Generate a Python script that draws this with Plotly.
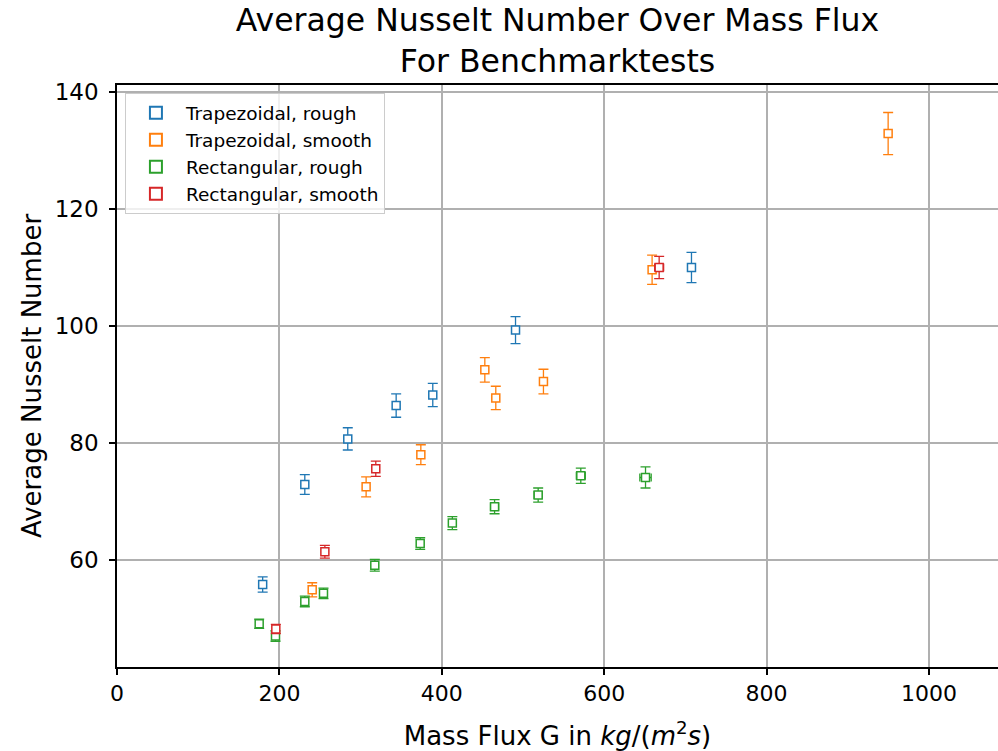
import plotly.graph_objects as go

# Data
trap_rough_x = [179.4, 231.3, 284.2, 343.8, 388.9, 490.8, 707.5]
trap_rough_y = [55.8, 72.9, 80.7, 86.4, 88.2, 99.3, 110.0]
trap_rough_yerr = [1.3, 1.7, 1.9, 2.0, 2.0, 2.3, 2.6]
trap_rough_xerr = [1.5, 2.0, 2.0, 2.5, 2.5, 3.0, 3.5]

trap_smooth_x = [240.4, 306.8, 374.2, 453.0, 466.5, 525.2, 659.0, 949.7]
trap_smooth_y = [54.9, 72.5, 78.0, 92.5, 87.7, 90.5, 109.6, 132.9]
trap_smooth_yerr = [1.2, 1.7, 1.7, 2.1, 2.0, 2.1, 2.5, 3.6]
trap_smooth_xerr = [2.0, 2.0, 2.5, 2.5, 2.5, 3.0, 3.5, 3.5]

rect_rough_x = [175.1, 195.2, 231.3, 254.3, 317.5, 373.4, 413.0, 465.0, 518.7, 571.2, 650.9]
rect_rough_y = [49.1, 47.0, 52.9, 54.3, 59.1, 62.8, 66.3, 69.1, 71.1, 74.4, 74.1]
rect_rough_yerr = [0.8, 0.9, 0.9, 0.9, 1.0, 1.0, 1.1, 1.2, 1.2, 1.3, 1.8]
rect_rough_xerr = [3.0, 3.0, 3.5, 3.5, 4.0, 4.0, 4.5, 5.0, 5.0, 5.5, 7.0]

rect_smooth_x = [195.6, 256.0, 318.7, 667.7]
rect_smooth_y = [48.2, 61.4, 75.6, 110.0]
rect_smooth_yerr = [0.8, 1.1, 1.3, 1.9]
rect_smooth_xerr = [3.0, 3.5, 4.0, 5.5]

series = [
    ("Trapezoidal, rough", trap_rough_x, trap_rough_y, trap_rough_xerr, trap_rough_yerr, "#1f77b4"),
    ("Trapezoidal, smooth", trap_smooth_x, trap_smooth_y, trap_smooth_xerr, trap_smooth_yerr, "#ff7f0e"),
    ("Rectangular, rough", rect_rough_x, rect_rough_y, rect_rough_xerr, rect_rough_yerr, "#2ca02c"),
    ("Rectangular, smooth", rect_smooth_x, rect_smooth_y, rect_smooth_xerr, rect_smooth_yerr, "#d62728"),
]

fig = go.Figure()
for name, x, y, xe, ye, c in series:
    fig.add_trace(go.Scatter(
        x=x, y=y, name=name, mode="markers",
        marker=dict(symbol="square", size=8, color="white", line=dict(color=c, width=1.5)),
        error_y=dict(type="data", array=ye, visible=True, color=c, thickness=1.3, width=5),
        error_x=dict(type="data", array=xe, visible=True, color=c, thickness=1.3, width=4),
    ))

fig.update_layout(
    width=998, height=751,
    margin=dict(l=117, r=0, t=85, b=84),
    paper_bgcolor="white", plot_bgcolor="white",
    font=dict(family="DejaVu Sans", color="black", size=22),
    title=dict(
        text="Average Nusselt Number Over Mass Flux<br>For Benchmarktests",
        x=(117 + 998) / 2 / 998, xanchor="center",
        y=1 - 31 / 751, yanchor="middle",
        font=dict(size=31.5, family="DejaVu Sans", color="black"),
    ),
    legend=dict(
        x=0.009, y=0.986, xanchor="left", yanchor="top",
        bgcolor="rgba(255,255,255,0.8)", bordercolor="#cccccc", borderwidth=1,
        font=dict(size=18.5, family="DejaVu Sans"),
        itemsizing="constant", tracegroupgap=0, itemwidth=50,
    ),
    showlegend=True,
)

fig.update_xaxes(
    range=[0, 1085],
    tickvals=[0, 200, 400, 600, 800, 1000],
    showgrid=True, gridcolor="#b0b0b0", gridwidth=1.6,
    showline=True, linecolor="black", linewidth=1.5, mirror=True,
    ticks="outside", ticklen=6, tickwidth=1.5, tickcolor="black",
    zeroline=False,
    title=dict(text="Mass Flux G in <i>kg</i>/(<i>m</i><sup>2</sup><i>s</i>)", font=dict(size=26), standoff=22),
    tickfont=dict(size=22),
)
fig.update_yaxes(
    range=[41.7, 141.2],
    tickvals=[60, 80, 100, 120, 140],
    showgrid=True, gridcolor="#b0b0b0", gridwidth=1.6,
    showline=True, linecolor="black", linewidth=1.5, mirror=False,
    ticks="outside", ticklen=6, tickwidth=1.5, tickcolor="black",
    ticklabelstandoff=6,
    zeroline=False,
    title=dict(text="Average Nusselt Number", font=dict(size=26), standoff=6),
    tickfont=dict(size=23),
)

fig.write_html("out.html")
